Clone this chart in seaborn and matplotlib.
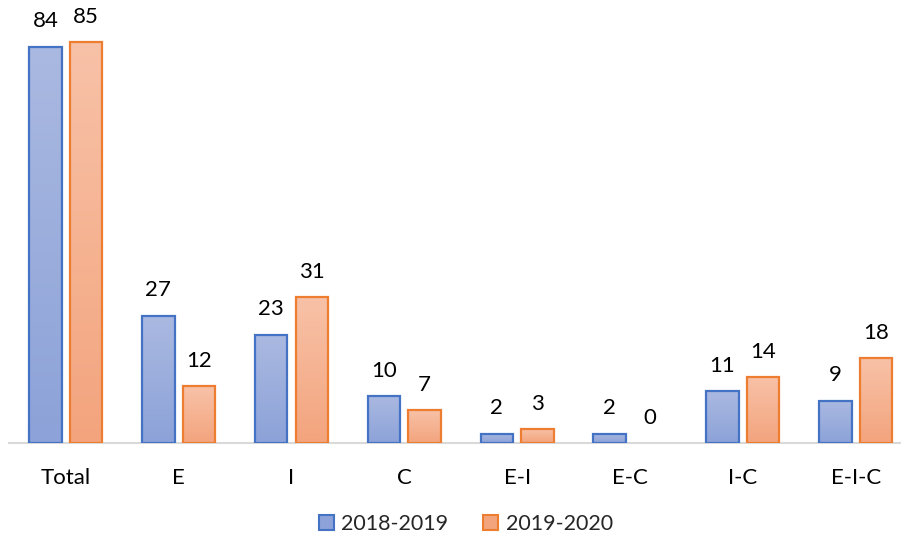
import numpy as np
import pandas as pd
import matplotlib
matplotlib.use("Agg")
import matplotlib.pyplot as plt
from matplotlib.colors import LinearSegmentedColormap
from matplotlib.patches import Patch
import seaborn as sns

categories = ["Total", "E", "I", "C", "E-I", "E-C", "I-C", "E-I-C"]
years = ["2018-2019", "2019-2020"]
values_2018 = [84, 27, 23, 10, 2, 2, 11, 9]
values_2019 = [85, 12, 31, 7, 3, 0, 14, 18]

edge_colors = {"2018-2019": "#4472C4", "2019-2020": "#ED7D31"}
# gradient fill: (top, bottom)
fill_colors = {"2018-2019": ("#AAB9E1", "#8CA2D8"), "2019-2020": ("#F8C2A8", "#F3A47D")}

df = pd.DataFrame({
    "category": categories * 2,
    "year": [years[0]] * len(categories) + [years[1]] * len(categories),
    "value": values_2018 + values_2019,
})

sns.set_style("white")
plt.rcParams["font.family"] = ["Lato", "DejaVu Sans"]

fig = plt.figure(figsize=(9.01, 5.37), dpi=100)
ax = fig.add_axes([0.0105, 0.175, 0.988, 0.788])

sns.barplot(data=df, x="category", y="value", hue="year", order=categories,
            hue_order=years, width=0.72, gap=0.2, ax=ax, legend=False,
            palette=["white", "white"], saturation=1)

for year, container in zip(years, ax.containers):
    top, bottom = fill_colors[year]
    cmap = LinearSegmentedColormap.from_list(year, [bottom, top])
    for bar in container:
        h = bar.get_height()
        bar.set_edgecolor(edge_colors[year])
        bar.set_linewidth(1.6)
        bar.set_facecolor("none")
        bar.set_zorder(3)
        if h <= 0:
            bar.set_visible(False)
            continue
        x0 = bar.get_x()
        w = bar.get_width()
        grad = np.linspace(0, 1, 256).reshape(-1, 1)
        img = ax.imshow(grad, cmap=cmap, aspect="auto", origin="lower",
                        extent=[x0, x0 + w, 0, h], zorder=2, vmin=0, vmax=1)
        img.set_clip_path(bar)
    ax.bar_label(container, labels=[str(int(v)) for v in container.datavalues],
                 padding=11, fontsize=16, color="#000000")

ax.set_xlim(-0.5, 7.39)
ax.set_ylim(0, 89.7)
ax.set_xlabel("")
ax.set_ylabel("")
ax.set_yticks([])
ax.tick_params(axis="x", length=0, pad=18, labelsize=16, labelcolor="#000000")
for side in ["top", "right", "left"]:
    ax.spines[side].set_visible(False)
ax.spines["bottom"].set_color("#D9D9D9")
ax.spines["bottom"].set_linewidth(1.5)

handles = [Patch(facecolor=fill_colors[y][1], edgecolor=edge_colors[y], linewidth=1.5,
                 label=y) for y in years]
fig.legend(handles=handles, loc="center", bbox_to_anchor=(0.517, 0.024), ncol=2,
           frameon=False, fontsize=15.5, handlelength=0.7, handleheight=0.7,
           handletextpad=0.35, columnspacing=1.6)

fig.savefig("out.png", dpi=100)
